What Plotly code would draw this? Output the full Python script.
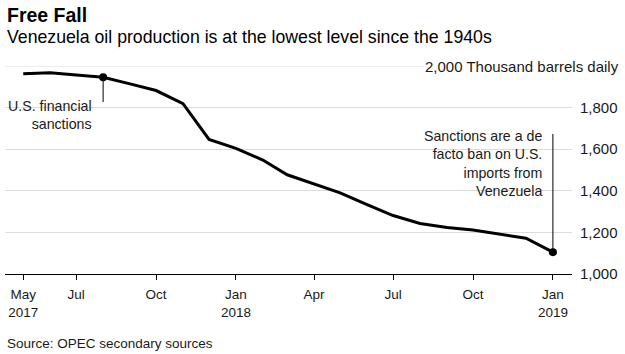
import plotly.graph_objects as go

months = ["2017-05-01", "2017-06-01", "2017-07-01", "2017-08-01", "2017-09-01",
          "2017-10-01", "2017-11-01", "2017-12-01", "2018-01-01", "2018-02-01",
          "2018-03-01", "2018-04-01", "2018-05-01", "2018-06-01", "2018-07-01",
          "2018-08-01", "2018-09-01", "2018-10-01", "2018-11-01", "2018-12-01",
          "2019-01-01"]
production = [1963, 1967, 1957, 1946, 1914, 1882, 1819, 1647, 1604, 1548,
              1477, 1433, 1390, 1333, 1281, 1243, 1224, 1211, 1191, 1172, 1105]

x_tick_vals = ["2017-05-01", "2017-07-01", "2017-10-01", "2018-01-01",
               "2018-04-01", "2018-07-01", "2018-10-01", "2019-01-01"]
x_tick_text = ["May<br>2017", "Jul", "Oct", "Jan<br>2018", "Apr", "Jul", "Oct", "Jan<br>2019"]
y_tick_vals = [1000, 1200, 1400, 1600, 1800, 2000]
y_tick_text = ["1,000", "1,200", "1,400", "1,600", "1,800", ""]
y_top_value = 2000
y_top_label = "2,000 Thousand barrels daily"

event_dates = ["2017-08-01", "2019-01-01"]
event_values = [1946, 1105]
event_line_ends = [1827, 1673]
event_text_y = [1764, 1529]
event_labels = ["U.S. financial<br>sanctions",
                "Sanctions are a de<br>facto ban on U.S.<br>imports from<br>Venezuela"]

title = "Free Fall"
subtitle = "Venezuela oil production is at the lowest level since the 1940s"
source = "Source: OPEC secondary sources"

FONT = "Liberation Sans, Arial, Helvetica, sans-serif"
TXT = "#1a1a1a"

fig = go.Figure()
fig.add_trace(go.Scatter(x=months, y=production, mode="lines",
                         line=dict(color="#000000", width=3), hoverinfo="skip",
                         showlegend=False))
fig.add_trace(go.Scatter(x=event_dates, y=event_values, mode="markers",
                         marker=dict(color="#000000", size=8), hoverinfo="skip",
                         showlegend=False))

shapes = [dict(type="line", xref="paper", yref="y", x0=0, x1=1, y0=y_top_value, y1=y_top_value,
               line=dict(color="#dcdcdc", width=1), layer="below")]
for d, v, e in zip(event_dates, event_values, event_line_ends):
    shapes.append(dict(type="line", xref="x", yref="y", x0=d, x1=d, y0=v, y1=e,
                       line=dict(color="#000000", width=1), layer="above"))

annotations = []
for d, ty, lab in zip(event_dates, event_text_y, event_labels):
    annotations.append(dict(x=d, y=ty, xref="x", yref="y", text=lab, showarrow=False,
                            xanchor="right", yanchor="middle", align="right", xshift=-9,
                            font=dict(family=FONT, size=14.2, color=TXT)))

annotations.append(dict(x=(621 - 5) / 567, y=y_top_value, xref="paper", yref="y", text=y_top_label,
                        showarrow=False, xanchor="right", yanchor="middle",
                        bgcolor="#ffffff", borderpad=1,
                        font=dict(family=FONT, size=15, color=TXT)))
annotations.append(dict(x=0, y=(274 - 14.5) / 208, xref="paper", yref="paper", text="<b>" + title + "</b>",
                        showarrow=False, xanchor="left", yanchor="middle", xshift=0,
                        font=dict(family=FONT, size=19.5, color="#000000")))
annotations.append(dict(x=0, y=(274 - 37) / 208, xref="paper", yref="paper", text=subtitle,
                        showarrow=False, xanchor="left", yanchor="middle", xshift=0,
                        font=dict(family=FONT, size=17.7, color="#000000")))
annotations.append(dict(x=0, y=(274 - 343) / 208, xref="paper", yref="paper", text=source,
                        showarrow=False, xanchor="left", yanchor="middle", xshift=0,
                        font=dict(family=FONT, size=13.5, color=TXT)))

fig.update_layout(
    width=625, height=354,
    margin=dict(l=5, r=53, t=66, b=80),
    paper_bgcolor="#ffffff", plot_bgcolor="#ffffff",
    font=dict(family=FONT, size=13, color=TXT),
    shapes=shapes, annotations=annotations,
    xaxis=dict(type="date", range=["2017-04-10", "2019-01-23"],
               tickvals=x_tick_vals, ticktext=x_tick_text,
               showgrid=False, showline=True, linecolor="#000000", linewidth=1,
               ticks="outside", ticklen=5, tickcolor="#000000", tickwidth=1,
               ticklabelstandoff=3,
               tickfont=dict(family=FONT, size=13.5, color=TXT), zeroline=False),
    yaxis=dict(range=[1000, 2000], side="right", tickvals=y_tick_vals, ticktext=y_tick_text,
               showgrid=True, gridcolor="#dcdcdc", gridwidth=1, zeroline=False,
               ticks="", ticklabelstandoff=7,
               tickfont=dict(family=FONT, size=15, color=TXT)),
)

fig.write_html("out.html")
